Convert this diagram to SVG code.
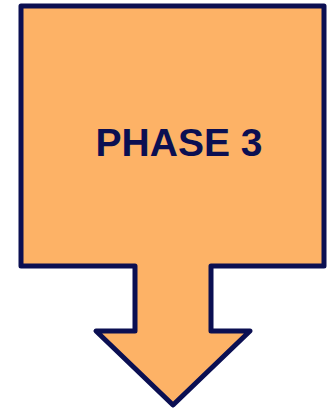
<svg xmlns="http://www.w3.org/2000/svg" width="332" height="411" viewBox="0 0 332 411">
<style>
.shape{fill:#FDB266;stroke:#0B0F52;stroke-width:5;stroke-linejoin:round}
.lbl{font-family:"Liberation Sans",Arial,sans-serif;font-weight:bold;font-size:39px;fill:#0B0F52}
</style>
<g id="phase3">
<path class="shape" d="M21,6 H324 V266 H211 V331 H250 L173,405 L96,331 H135 V266 H21 Z"/>
<text class="lbl" x="179" y="156" text-anchor="middle">PHASE 3</text>
</g>
<g id="connectors"/>
</svg>
